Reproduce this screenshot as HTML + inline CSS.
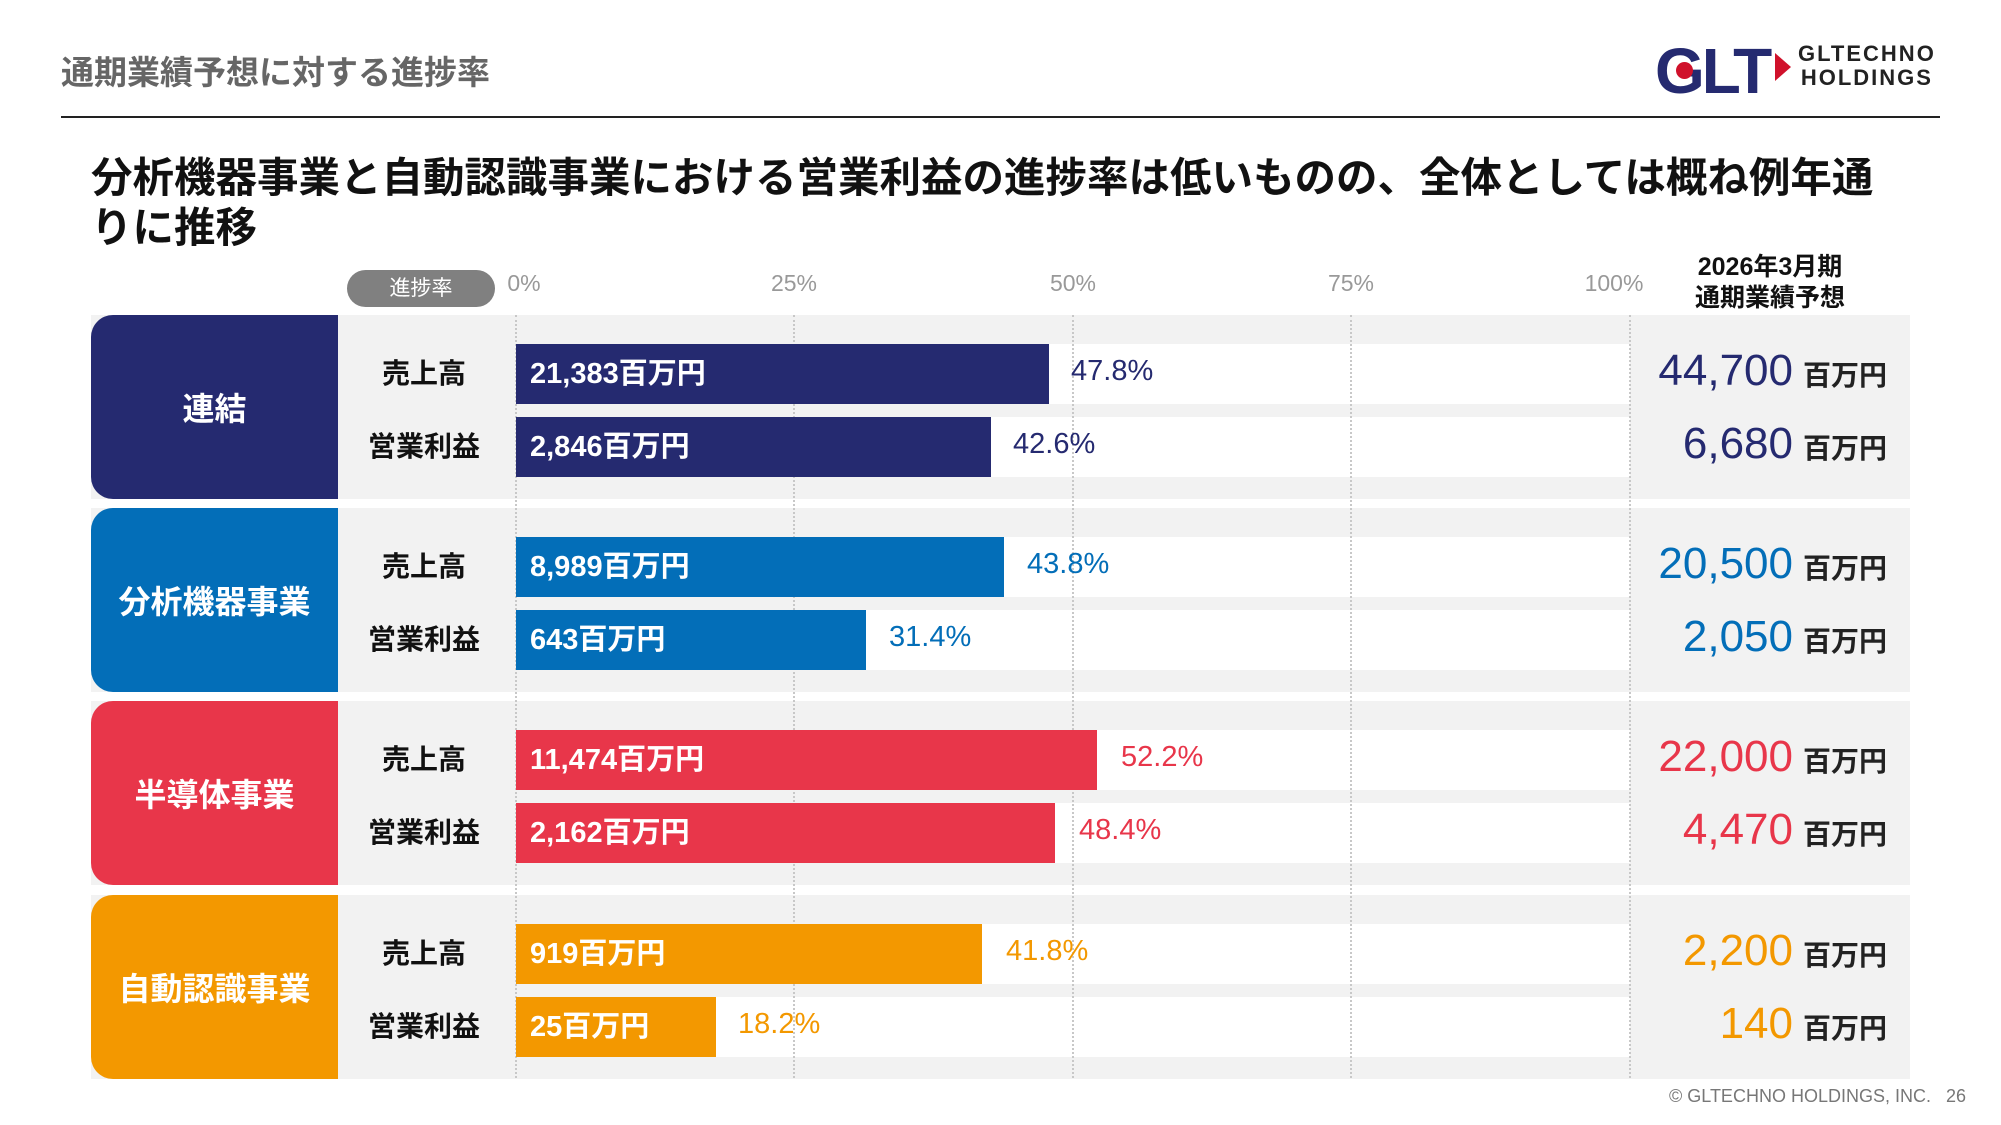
<!DOCTYPE html>
<html><head><meta charset="utf-8"><style>
body{margin:0;width:2001px;height:1125px;background:#fff;position:relative;overflow:hidden;font-family:"Liberation Sans","Noto Sans CJK JP",sans-serif}
.a{position:absolute;white-space:nowrap}
.panel{position:absolute;left:91px;width:1819px;height:184px;background:#f2f2f2}
.lbl{position:absolute;left:91px;width:247px;height:184px;border-radius:22px 0 0 22px;color:#fff;font-weight:bold;font-size:32px;display:flex;align-items:center;justify-content:center}
.track{position:absolute;left:516px;width:1114px;height:60px;background:#fff}
.bar{position:absolute;left:516px;height:60px;color:#fff;font-weight:bold;font-size:29px;line-height:60px;padding-left:14px;box-sizing:border-box;white-space:nowrap}
.pct{position:absolute;font-size:29px;line-height:60px;font-weight:500}
.row{position:absolute;left:338px;width:172px;text-align:center;font-size:28px;font-weight:bold;line-height:60px;color:#111}
.val{position:absolute;right:208px;font-size:44px;font-weight:500;line-height:60px}
.unit{position:absolute;left:1803px;font-size:28px;font-weight:bold;line-height:64px;color:#222}
.grid{position:absolute;top:315px;height:763px;border-left:2px dotted #c8c8c8}
.ax{position:absolute;top:270px;font-size:23px;color:#999;width:100px;text-align:center}
</style></head><body>
<div class="a" style="left:61px;top:46px;font-size:33px;color:#666;font-weight:bold">通期業績予想に対する進捗率</div>
<div class="a" style="left:61px;top:116px;width:1879px;height:2px;background:#222"></div>
<div class="a" style="left:1655px;top:34px;font-size:64px;font-weight:900;color:#252a70;letter-spacing:-3px">GLT</div>
<div class="a" style="left:1676px;top:62px;width:17px;height:17px;border-radius:50%;background:#d0112b"></div>
<div class="a" style="left:1775px;top:53px;width:0;height:0;border-top:14px solid transparent;border-bottom:14px solid transparent;border-left:16px solid #d0112b"></div>
<div class="a" style="left:1798px;top:42px;font-size:22px;font-weight:bold;color:#222;letter-spacing:2px;line-height:24px;text-align:center">GLTECHNO<br>HOLDINGS</div>
<div class="a" style="left:91px;top:153px;font-size:41.5px;font-weight:bold;color:#111;line-height:50px">分析機器事業と自動認識事業における営業利益の進捗率は低いものの、全体としては概ね例年通<br>りに推移</div>
<div class="a" style="left:347px;top:270px;width:148px;height:37px;border-radius:19px;background:#808080;color:#fff;font-size:21px;text-align:center;line-height:37px">進捗率</div>
<div class="ax" style="left:474px">0%</div><div class="ax" style="left:744px">25%</div><div class="ax" style="left:1023px">50%</div><div class="ax" style="left:1301px">75%</div><div class="ax" style="left:1564px">100%</div>
<div class="a" style="left:1650px;top:252px;width:240px;text-align:center;font-size:25px;font-weight:bold;line-height:31px;color:#111">2026年3月期<br>通期業績予想</div>

<div class="panel" style="top:315px"></div><div class="panel" style="top:508px"></div><div class="panel" style="top:701px"></div><div class="panel" style="top:895px"></div>
<div class="track" style="top:344px"></div><div class="track" style="top:417px"></div>
<div class="track" style="top:537px"></div><div class="track" style="top:610px"></div>
<div class="track" style="top:730px"></div><div class="track" style="top:803px"></div>
<div class="track" style="top:924px"></div><div class="track" style="top:997px"></div>
<div class="grid" style="left:515px"></div><div class="grid" style="left:793px"></div><div class="grid" style="left:1072px"></div><div class="grid" style="left:1350px"></div><div class="grid" style="left:1629px"></div>

<div class="lbl" style="top:315px;background:#252a70">連結</div>
<div class="lbl" style="top:508px;background:#036eb8">分析機器事業</div>
<div class="lbl" style="top:701px;background:#e8364a">半導体事業</div>
<div class="lbl" style="top:895px;background:#f39800">自動認識事業</div>

<div class="row" style="top:344px">売上高</div><div class="row" style="top:417px">営業利益</div>
<div class="row" style="top:537px">売上高</div><div class="row" style="top:610px">営業利益</div>
<div class="row" style="top:730px">売上高</div><div class="row" style="top:803px">営業利益</div>
<div class="row" style="top:924px">売上高</div><div class="row" style="top:997px">営業利益</div>

<div class="bar" style="top:344px;width:533px;background:#252a70">21,383百万円</div><div class="pct" style="top:341px;left:1071px;color:#252a70">47.8%</div>
<div class="bar" style="top:417px;width:475px;background:#252a70">2,846百万円</div><div class="pct" style="top:414px;left:1013px;color:#252a70">42.6%</div>
<div class="bar" style="top:537px;width:488px;background:#036eb8">8,989百万円</div><div class="pct" style="top:534px;left:1027px;color:#036eb8">43.8%</div>
<div class="bar" style="top:610px;width:350px;background:#036eb8">643百万円</div><div class="pct" style="top:607px;left:889px;color:#036eb8">31.4%</div>
<div class="bar" style="top:730px;width:581px;background:#e8364a">11,474百万円</div><div class="pct" style="top:727px;left:1121px;color:#e8364a">52.2%</div>
<div class="bar" style="top:803px;width:539px;background:#e8364a">2,162百万円</div><div class="pct" style="top:800px;left:1079px;color:#e8364a">48.4%</div>
<div class="bar" style="top:924px;width:466px;background:#f39800">919百万円</div><div class="pct" style="top:921px;left:1006px;color:#f39800">41.8%</div>
<div class="bar" style="top:997px;width:200px;background:#f39800">25百万円</div><div class="pct" style="top:994px;left:738px;color:#f39800">18.2%</div>

<div class="val" style="top:341px;color:#252a70">44,700</div><div class="unit" style="top:344px">百万円</div>
<div class="val" style="top:414px;color:#252a70">6,680</div><div class="unit" style="top:417px">百万円</div>
<div class="val" style="top:534px;color:#036eb8">20,500</div><div class="unit" style="top:537px">百万円</div>
<div class="val" style="top:607px;color:#036eb8">2,050</div><div class="unit" style="top:610px">百万円</div>
<div class="val" style="top:727px;color:#e8364a">22,000</div><div class="unit" style="top:730px">百万円</div>
<div class="val" style="top:800px;color:#e8364a">4,470</div><div class="unit" style="top:803px">百万円</div>
<div class="val" style="top:921px;color:#f39800">2,200</div><div class="unit" style="top:924px">百万円</div>
<div class="val" style="top:994px;color:#f39800">140</div><div class="unit" style="top:997px">百万円</div>

<div class="a" style="left:1669px;top:1086px;font-size:18px;color:#777">© GLTECHNO HOLDINGS, INC.&nbsp;&nbsp;&nbsp;26</div>
</body></html>
